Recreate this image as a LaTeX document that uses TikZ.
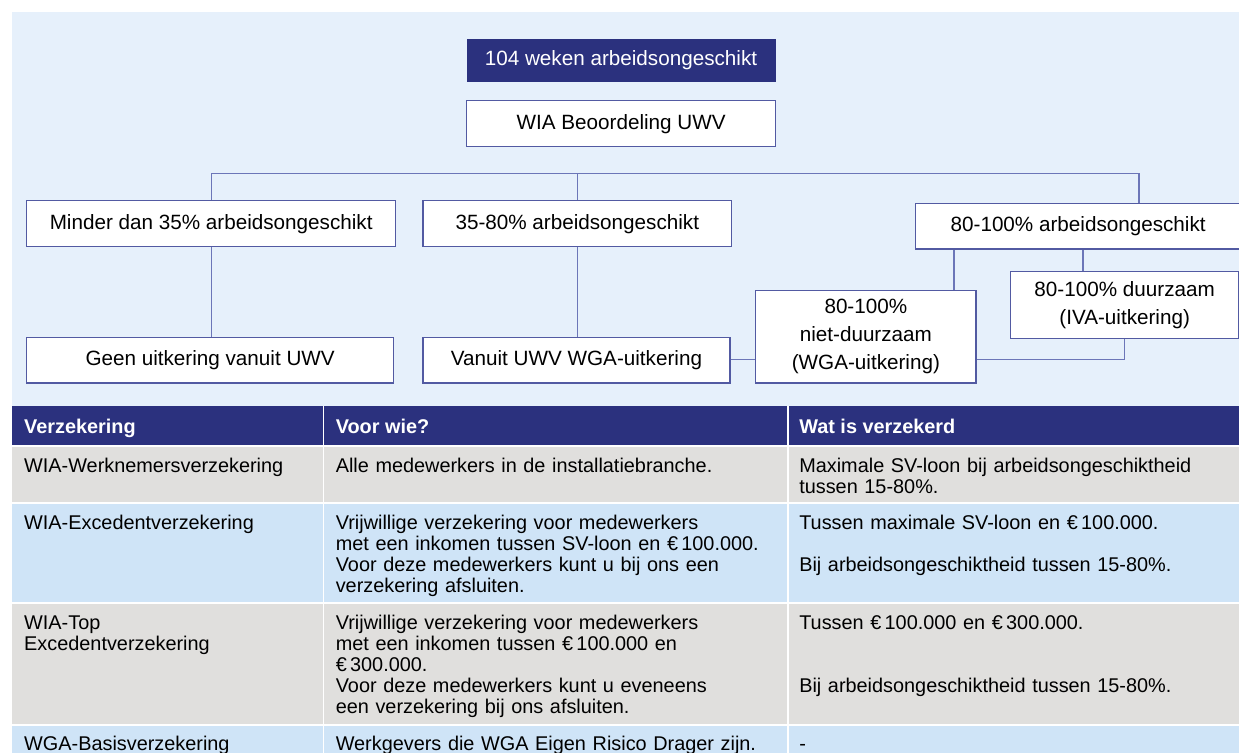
\documentclass[tikz,border=0pt]{standalone}
\usepackage{fontspec}
\setmainfont{Liberation Sans}

\definecolor{achtergrond}{RGB}{230,240,251}
\definecolor{donkerblauw}{RGB}{43,49,126}
\definecolor{randblauw}{RGB}{82,90,162}
\definecolor{lijnblauw}{RGB}{108,118,184}
\definecolor{grijsrij}{RGB}{224,223,221}
\definecolor{blauwrij}{RGB}{207,228,247}

\tikzset{every picture/.style={line width=0.75pt}}
\tikzset{
    vak/.style={draw=randblauw, fill=white, line width=1pt, inner sep=0pt, anchor=north west, align=center, font=\fontsize{15.5}{21}\selectfont},
    kopvak/.style={fill=donkerblauw, text=white, inner sep=0pt, anchor=north west, font=\fontsize{15.5}{21}\selectfont},
    lijn/.style={draw=lijnblauw, line width=1pt},
    scheiding/.style={draw=white, line width=1.2pt},
    cel/.style={anchor=base west, inner sep=0pt, align=left, text width=#1, font=\fontsize{14.9}{15.75}\selectfont},
    cel/.default=330pt,
    kopcel/.style={anchor=base west, inner sep=0pt, text=white, font=\fontsize{14.9}{15.75}\selectfont\bfseries},
}

\begin{document}
\begin{tikzpicture}[x=0.75pt,y=0.75pt,yscale=-1,xscale=1]
    \useasboundingbox (0,0) rectangle (1239,753);

    %Background
    \fill[achtergrond] (11.5,12) rectangle (1239,753);

    %Table rows
    \fill[donkerblauw] (11.5,406) rectangle (1239,446);
    \fill[grijsrij] (11.5,446) rectangle (1239,503);
    \fill[blauwrij] (11.5,503) rectangle (1239,603);
    \fill[grijsrij] (11.5,603) rectangle (1239,725);
    \fill[blauwrij] (11.5,725) rectangle (1239,753);
    \foreach \y in {446,503,603,725}
        \draw[scheiding] (11.5,\y) -- (1239,\y);
    \foreach \x in {323.4,787.8}
        \draw[scheiding] (\x,406) -- (\x,753);

    % Boxes
    \node[kopvak, minimum width=231.75pt, minimum height=32.25pt] (weken) at (466,38) {104 weken arbeidsongeschikt};
    \node[vak, minimum width=231.75pt, minimum height=34.5pt] (wia) at (466,100) {WIA Beoordeling UWV};
    \node[vak, minimum width=276.75pt, minimum height=34.5pt] (minder) at (26,200) {Minder dan 35\% arbeidsongeschikt};
    \node[vak, minimum width=231.5pt, minimum height=34.5pt] (midden) at (422.3,200) {35-80\% arbeidsongeschikt};
    \node[vak, minimum width=243.75pt, minimum height=34.1pt] (zwaar) at (915,203) {80-100\% arbeidsongeschikt};
    \node[vak, minimum width=275.25pt, minimum height=34.2pt] (geen) at (26,336.7) {Geen uitkering vanuit UWV};
    \node[vak, minimum width=230.25pt, minimum height=34pt] (vanuit) at (422.3,337) {Vanuit UWV WGA-uitkering};
    \node[vak, minimum width=165.3pt, minimum height=69.2pt] (nietduur) at (755,290) {80-100\%\\niet-duurzaam\\(WGA-uitkering)};
    \node[vak, minimum width=171.45pt, minimum height=50.25pt] (duur) at (1009.7,270.7) {80-100\% duurzaam\\(IVA-uitkering)};

    % Connectors
    \coordinate (bus) at (1139,173.7);
    \coordinate (tak1) at (954,0);
    \coordinate (tak2) at (1083,0);
    \coordinate (dwars) at (0,359.7);
    \draw[lijn] (minder.north) |- (bus) -- (bus |- zwaar.north);
    \draw[lijn] (midden.north) -- (midden.north |- bus);
    \draw[lijn] (minder.south) -- (minder.south |- geen.north);
    \draw[lijn] (midden.south) -- (midden.south |- vanuit.north);
    \draw[lijn] (zwaar.south -| tak1) -- (nietduur.north -| tak1);
    \draw[lijn] (zwaar.south -| tak2) -- (duur.north -| tak2);
    \draw[lijn] (vanuit.east |- dwars) -- (nietduur.west |- dwars);
    \draw[lijn] (nietduur.east |- dwars) -| (duur.south);

    % Table header
    \node[kopcel] (kop1) at (23.7,433) {Verzekering};
    \node[kopcel] (kop2) at (335.3,433) {Voor wie?};
    \node[kopcel] (kop3) at (798.8,433) {Wat is verzekerd};

    % Row 1
    \node[cel=217pt] (r1a) at (23.7,472.7) {WIA-Werknemersverzekering};
    \node[cel] (r1b) at (335.3,472.7) {Alle medewerkers in de installatiebranche.};
    \node[cel] (r1c) at (798.8,472.7) {Maximale SV-loon bij arbeidsongeschiktheid\\tussen 15-80\%.};
    % Row 2
    \node[cel=217pt] (r2a) at (23.7,529.8) {WIA-Excedentverzekering};
    \node[cel] (r2b) at (335.3,529.8) {Vrijwillige verzekering voor medewerkers\\met een inkomen tussen SV-loon en €\,100.000.\\Voor deze medewerkers kunt u bij ons een\\verzekering afsluiten.};
    \node[cel] (r2c) at (798.8,529.8) {Tussen maximale SV-loon en €\,100.000.\\[15.75pt]Bij arbeidsongeschiktheid tussen 15-80\%.};
    % Row 3
    \node[cel=217pt] (r3a) at (23.7,629.8) {WIA-Top\\Excedentverzekering};
    \node[cel] (r3b) at (335.3,629.8) {Vrijwillige verzekering voor medewerkers\\met een inkomen tussen €\,100.000 en\\€\,300.000.\\Voor deze medewerkers kunt u eveneens\\een verzekering bij ons afsluiten.};
    \node[cel] (r3c) at (798.8,629.8) {Tussen €\,100.000 en €\,300.000.\\[31.5pt]Bij arbeidsongeschiktheid tussen 15-80\%.};
    % Row 4
    \node[cel=217pt] (r4a) at (23.7,750.5) {WGA-Basisverzekering};
    \node[cel] (r4b) at (335.3,750.5) {Werkgevers die WGA Eigen Risico Drager zijn.};
    \node[cel] (r4c) at (798.8,750.5) {-};
\end{tikzpicture}
\end{document}
